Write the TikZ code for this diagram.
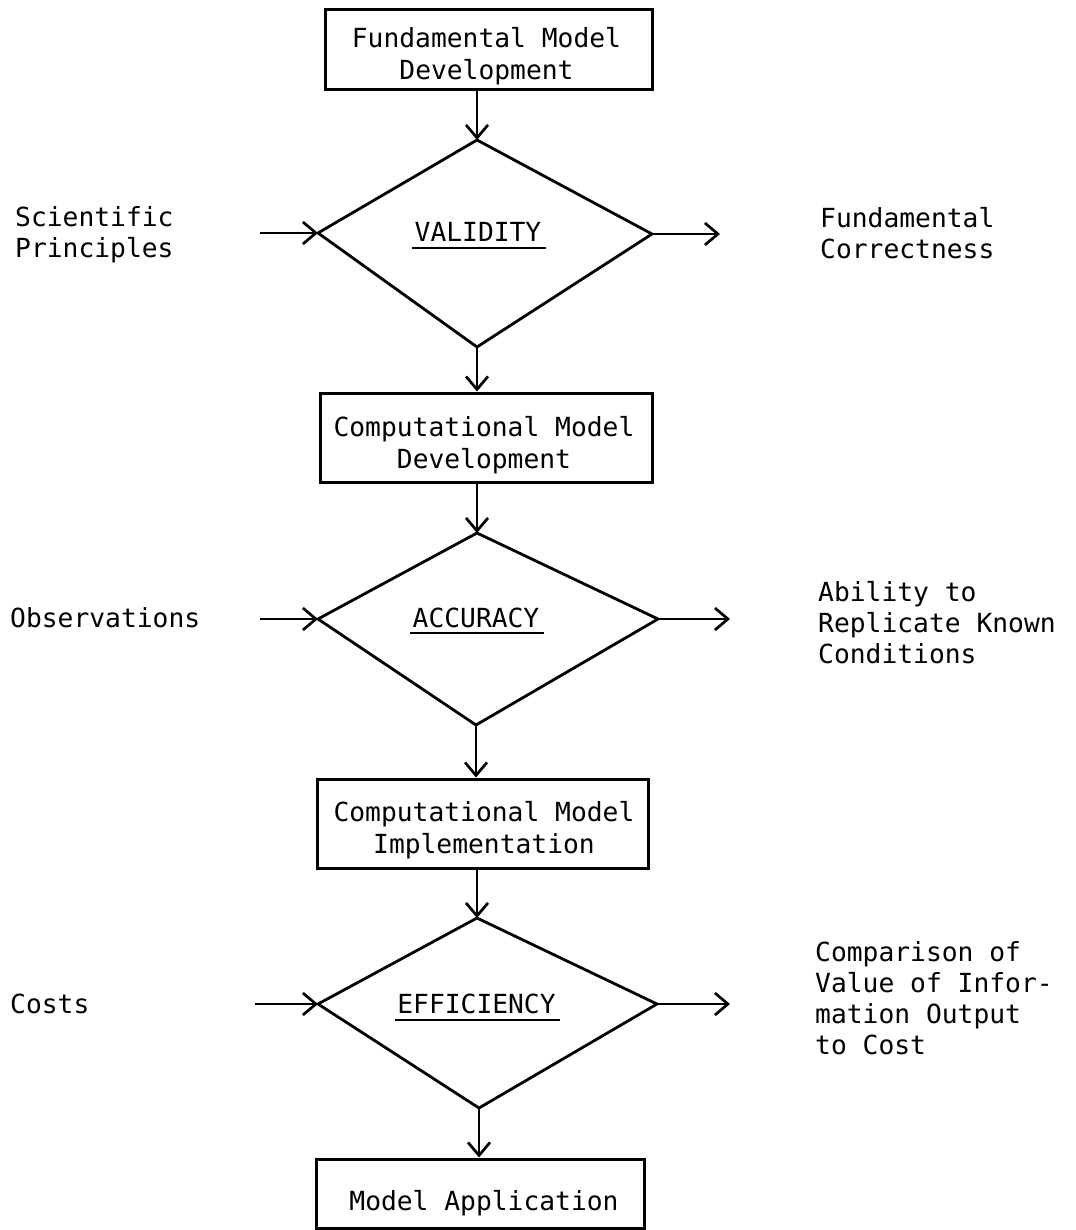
\documentclass[tikz,border=0pt]{standalone}
\usepackage{fontspec}
\setmainfont{DejaVu Sans Mono}
\usetikzlibrary{arrows.meta}
\begin{document}
\begin{tikzpicture}[x=1pt,y=-1pt,
  box/.style={draw, line width=3pt, inner sep=0pt},
  txt/.style={inner sep=0pt, font=\fontsize{26.3}{31}\selectfont, align=left},
  ctxt/.style={inner sep=0pt, font=\fontsize{26.3}{32}\selectfont, align=center},
  arr/.style={line width=2.7pt, -{Straight Barb[length=13pt,width=22pt]}},
  dia/.style={line width=2.8pt, line join=miter},
  uline/.style={line width=2pt}]
\useasboundingbox (0,0) rectangle (1075,1230);

% boxes
\node[box, minimum width=327pt, minimum height=80pt] (b1) at (488.5,50) {};
\node[ctxt, anchor=base] (b1t) at (486.5,80) {Fundamental Model\\Development};
\node[box, minimum width=332pt, minimum height=89pt] (b2) at (486,437.5) {};
\node[ctxt, anchor=base] (b2t) at (484,468) {Computational Model\\Development};
\node[box, minimum width=331pt, minimum height=89pt] (b3) at (482.5,823.5) {};
\node[ctxt, anchor=base] (b3t) at (484,853) {Computational Model\\Implementation};
\node[box, minimum width=328pt, minimum height=69pt] (b4) at (480,1193.5) {};
\node[ctxt, anchor=base] (b4t) at (484,1210) {Model Application};

% diamonds
\coordinate (d1t) at (477,140); \coordinate (d1l) at (318,233);
\coordinate (d1r) at (652,234); \coordinate (d1b) at (477,347);
\coordinate (d2t) at (477,533); \coordinate (d2l) at (318,619);
\coordinate (d2r) at (658,619); \coordinate (d2b) at (476,725);
\coordinate (d3t) at (477,918); \coordinate (d3l) at (318,1004);
\coordinate (d3r) at (657,1004); \coordinate (d3b) at (479,1108);
\draw[dia] (d1t) -- (d1r) -- (d1b) -- (d1l) -- cycle;
\draw[dia] (d2t) -- (d2r) -- (d2b) -- (d2l) -- cycle;
\draw[dia] (d3t) -- (d3r) -- (d3b) -- (d3l) -- cycle;

\node[ctxt, anchor=base] (d1x) at (478,242) {VALIDITY};
\node[ctxt, anchor=base] (d2x) at (476,627) {ACCURACY};
\node[ctxt, anchor=base] (d3x) at (476.5,1013) {EFFICIENCY};
\draw[uline] ([xshift=-2pt,yshift=-6pt]d1x.base west) -- ([xshift=4pt,yshift=-6pt]d1x.base east);
\draw[uline] ([xshift=-2pt,yshift=-6pt]d2x.base west) -- ([xshift=4pt,yshift=-6pt]d2x.base east);
\draw[uline] ([xshift=-2pt,yshift=-7pt]d3x.base west) -- ([xshift=4pt,yshift=-7pt]d3x.base east);

% vertical connectors
\draw[arr] (b1.south -| d1t) -- (d1t);
\draw[arr] (d1b) -- (b2.north -| d1b);
\draw[arr] (b2.south -| d2t) -- (d2t);
\draw[arr] (d2b) -- (b3.north -| d2b);
\draw[arr] (b3.south -| d3t) -- (d3t);
\draw[arr] (d3b) -- (b4.north -| d3b);

% side connectors
\coordinate (in1) at (260,233); \coordinate (out1) at (720,234);
\coordinate (in2) at (260,619); \coordinate (out2) at (730,619);
\coordinate (in3) at (255,1004); \coordinate (out3) at (730,1004);
\draw[arr] (in1) -- (d1l);
\draw[arr] (d1r) -- (out1);
\draw[arr] (in2) -- (d2l);
\draw[arr] (d2r) -- (out2);
\draw[arr] (in3) -- (d3l);
\draw[arr] (d3r) -- (out3);

% side texts
\node[txt, anchor=base west] (sp) at (15,258) {Scientific\\Principles};
\node[txt, anchor=base west] (fc) at (820,259) {Fundamental\\Correctness};
\node[txt, anchor=base west] (ob) at (10,627) {Observations};
\node[txt, anchor=base west] (ar) at (818,663) {Ability to\\Replicate Known\\Conditions};
\node[txt, anchor=base west] (co) at (10,1013) {Costs};
\node[txt, anchor=base west] (cv) at (815,1054) {Comparison of\\Value of Infor-\\mation Output\\to Cost};
\end{tikzpicture}
\end{document}
